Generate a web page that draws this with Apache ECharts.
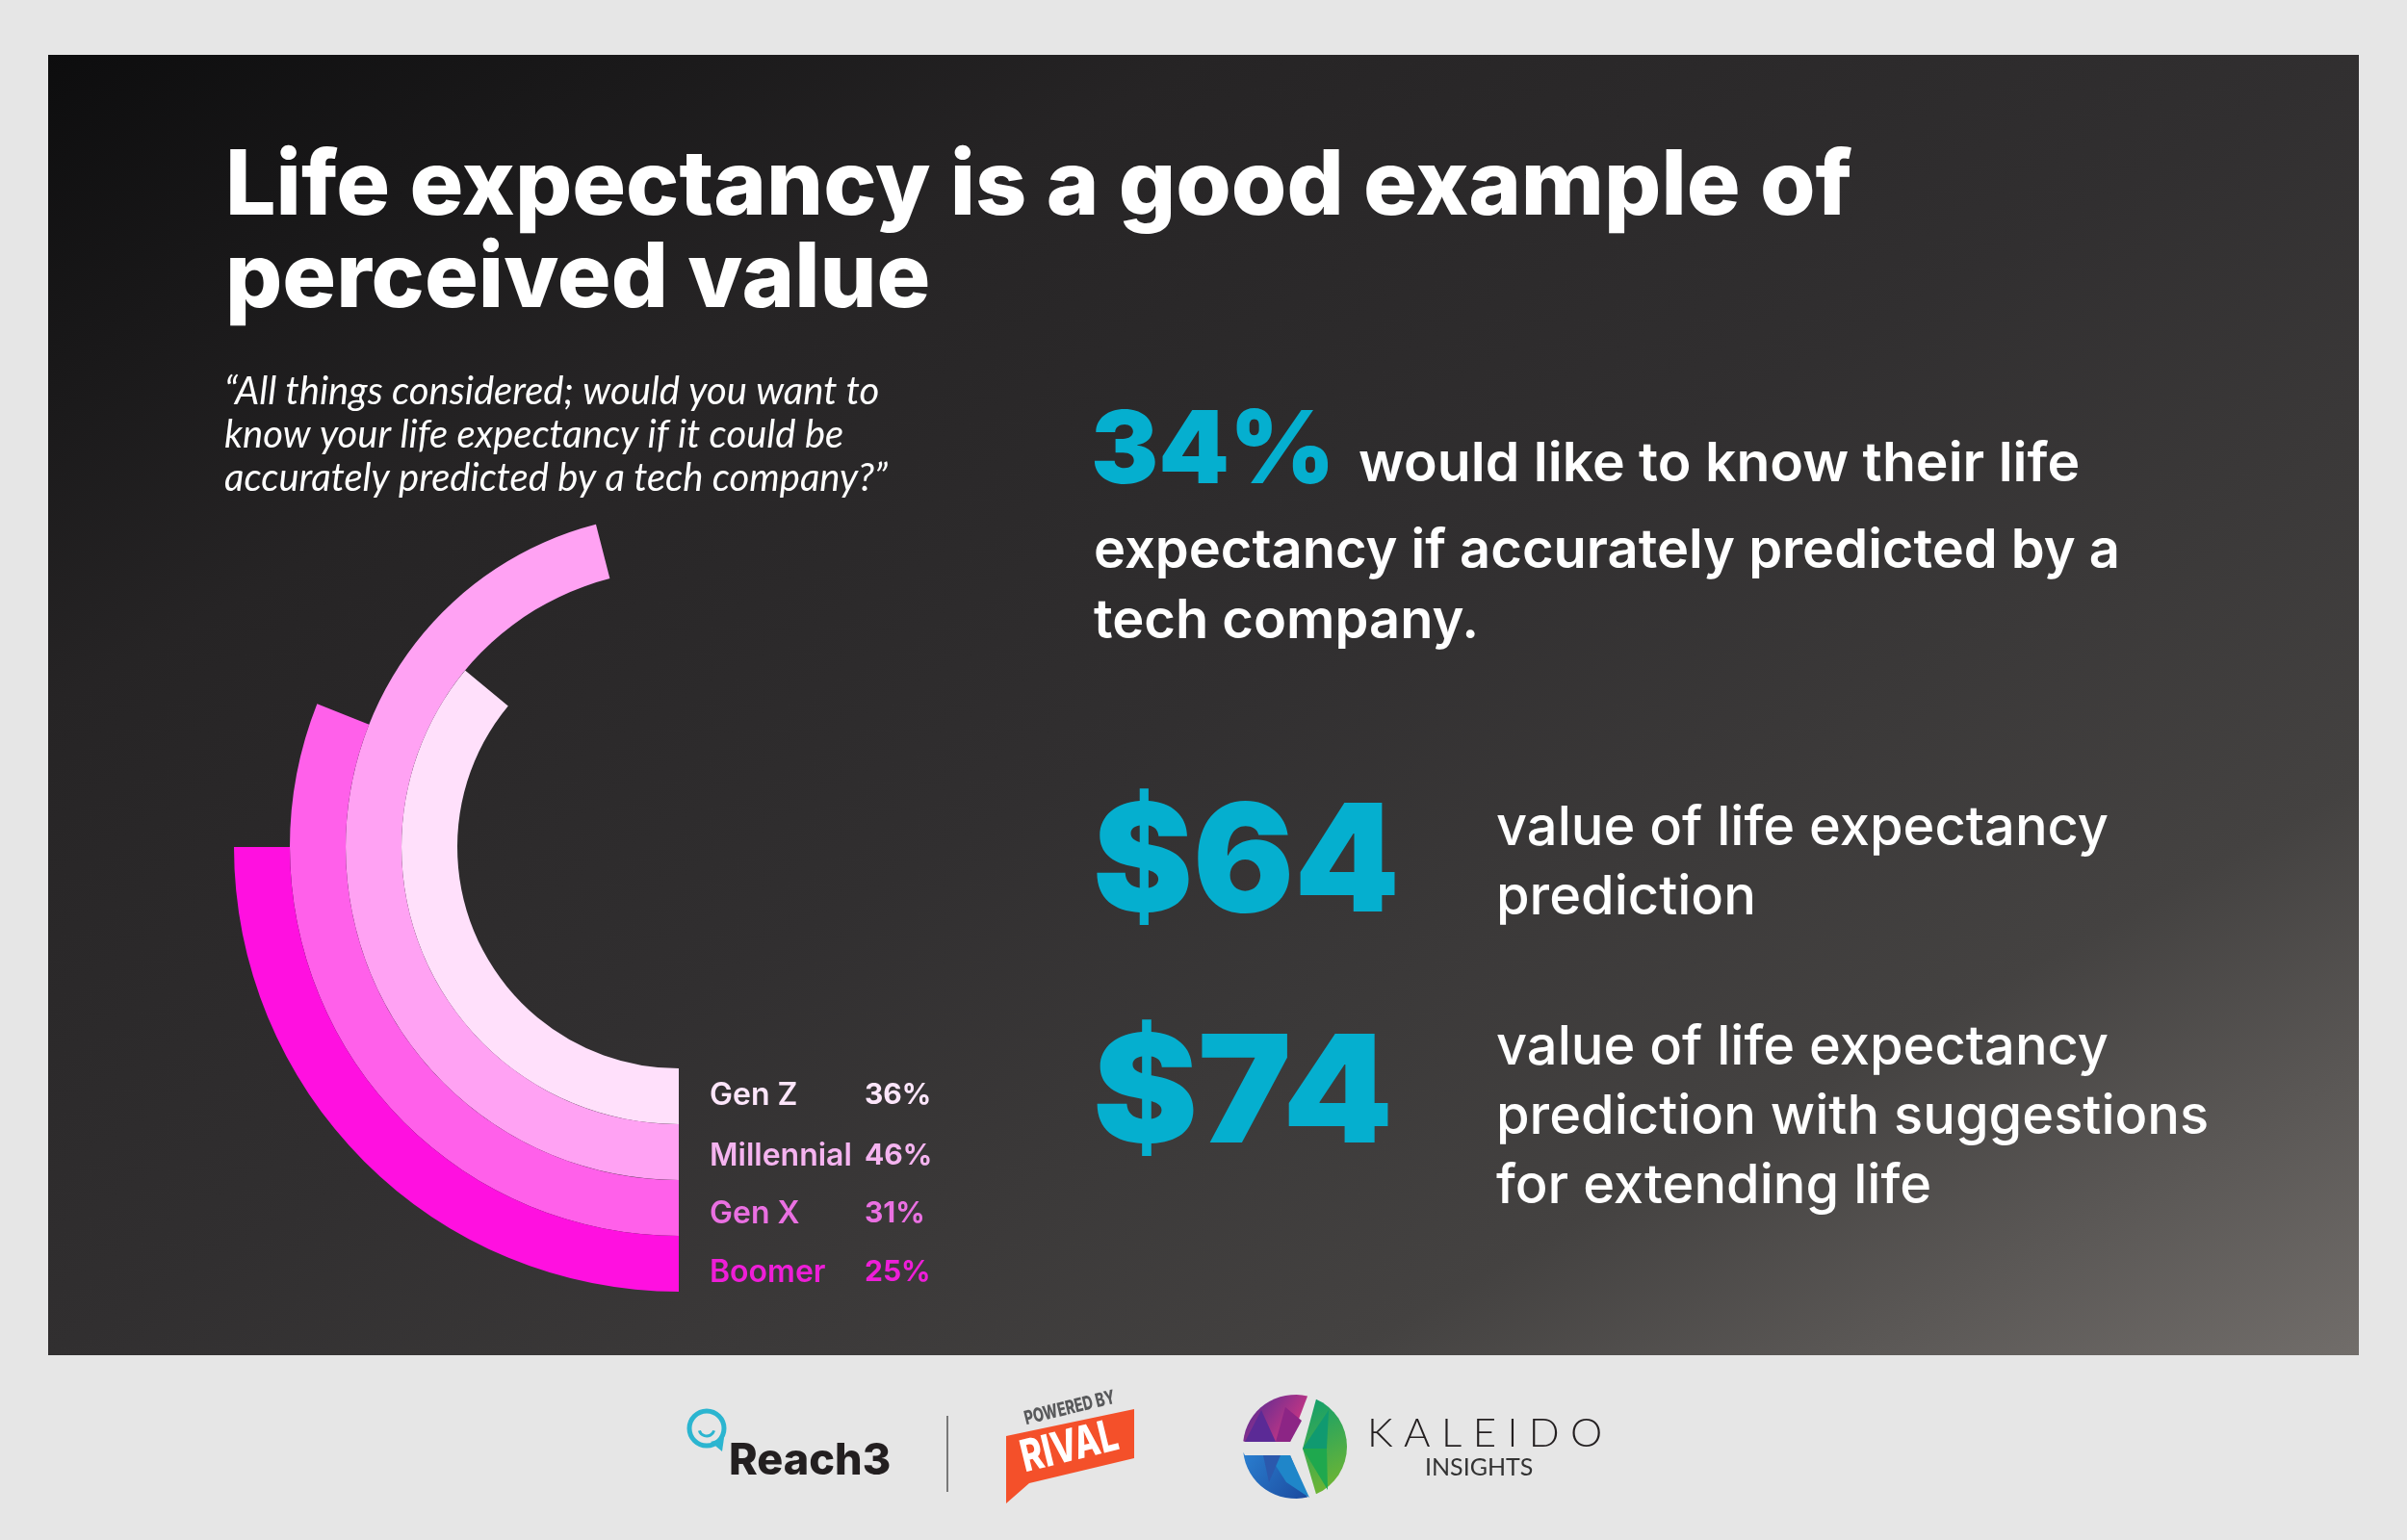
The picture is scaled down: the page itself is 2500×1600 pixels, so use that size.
<!DOCTYPE html>
<html>
<head>
<meta charset="utf-8">
<title>Life expectancy</title>
<script src="https://cdn.jsdelivr.net/npm/echarts@6/dist/echarts.min.js"></script>
<style>
  html, body { margin: 0; padding: 0; background: #e6e6e6; }
  #chart { width: 2500px; height: 1600px; }
</style>
</head>
<body>
<div id="chart"></div>
<script>
// chart values, innermost ring first
const generations = ['Gen Z', 'Millennial', 'Gen X', 'Boomer']
const shares = [36, 46, 31, 25]
const ringColors = ['#ffe0fb', '#ffa2f3', '#ff60ea', '#ff10e0']
const labelColors = ['#fde6fb', '#f5b4f0', '#ea70e2', '#ee1ed8']
const labelNudge = [-1, 4, 6, 9]

const titleLines = ['Life expectancy is a good example of', 'perceived value']
const questionLines = [
  '“All things considered; would you want to',
  'know your life expectancy if it could be',
  'accurately predicted by a tech company?”'
]
const knowShare = '34%'
const knowLines = ['would like to know their life', 'expectancy if accurately predicted by a', 'tech company.']
const plainValue = '$64'
const plainLines = ['value of life expectancy', 'prediction']
const extendedValue = '$74'
const extendedLines = ['value of life expectancy', 'prediction with suggestions', 'for extending life']

const FONT = 'Inter, Lato, sans-serif'
const LATO = 'Lato, sans-serif'
const TEAL = '#05afcf'

const chart = echarts.init(document.getElementById('chart'))

function label(text, x, y, size, weight, fill, extra) {
  return Object.assign({
    type: 'text', x: x, y: y,
    style: Object.assign({
      text: text, fill: fill, fontFamily: FONT, fontSize: size, fontWeight: weight,
      align: 'left', verticalAlign: 'middle'
    }, extra && extra.style)
  }, extra && extra.el)
}

// arc points for the logo pieces
function arcPoints(cx, cy, r, from, to, steps) {
  const pts = []
  for (let i = 0; i <= steps; i++) {
    const a = (from + (to - from) * i / steps) * Math.PI / 180
    pts.push([cx + r * Math.cos(a), cy + r * Math.sin(a)])
  }
  return pts
}

function gradient(a, b) {
  return new echarts.graphic.LinearGradient(0, 0, 1, 1, [{ offset: 0, color: a }, { offset: 1, color: b }])
}

function facet(points, color) {
  return { type: 'polygon', shape: { points: points }, style: { fill: color } }
}

const panelFill = new echarts.graphic.LinearGradient(50, 57, 1204, 2108, [
  { offset: 0, color: '#0d0d0e' },
  { offset: 0.25, color: '#262425' },
  { offset: 0.5, color: '#312f30' },
  { offset: 0.78, color: '#444241' },
  { offset: 1, color: '#716d6a' }
], true)

const logoX = 1345, logoY = 1503, logoR = 54
const logos = [
  // Reach3
  { type: 'circle', shape: { cx: 734, cy: 1484, r: 18 }, style: { fill: 'none', stroke: '#2bb5d0', lineWidth: 5 } },
  { type: 'polygon', shape: { points: [[738, 1498], [752, 1494], [750, 1508]] }, style: { fill: '#2bb5d0' } },
  { type: 'arc', shape: { cx: 734, cy: 1484, r: 8, startAngle: 0.3, endAngle: Math.PI - 0.3 }, style: { stroke: '#2bb5d0', lineWidth: 3, fill: 'none' } },
  label('Reach3', 757, 1518, 45, 800, '#231f20'),
  { type: 'line', shape: { x1: 984, y1: 1471, x2: 984, y2: 1550 }, style: { stroke: '#555', lineWidth: 1.5 } },
  // Rival
  { type: 'polygon', shape: { points: [[1045, 1492], [1178, 1464], [1178, 1515], [1069, 1541], [1045, 1562]] }, style: { fill: '#f4502a' } },
  label('RIVAL', 1111, 1504, 46, 800, '#fff', { style: { align: 'center' }, el: { rotation: 0.24, scaleX: 0.75 } }),
  label('POWERED BY', 1111, 1463, 20, 800, '#58595b', { style: { align: 'center' }, el: { rotation: 0.24, scaleX: 0.72 } }),
  // Kaleido
  { type: 'polygon', shape: { points: [[1293, 1498]].concat(arcPoints(logoX, logoY, logoR, 186, 284, 16), [[1340, 1498]]) }, style: { fill: gradient('#4a2a95', '#e8397f') } },
  facet([[1293, 1498], [1325, 1498], [1310, 1465]], '#5b2a96'),
  facet([[1325, 1498], [1340, 1498], [1352, 1476], [1335, 1462]], '#8c2585'),
  { type: 'polygon', shape: { points: [[1293, 1512]].concat(arcPoints(logoX, logoY, logoR, 174, 76, 16), [[1340, 1512]]) }, style: { fill: gradient('#2a7fd0', '#1c4a9e') } },
  facet([[1340, 1512], [1318, 1512], [1336, 1540], [1360, 1556]], '#1f86c9'),
  facet([[1312, 1512], [1330, 1512], [1318, 1540]], '#2b59ad'),
  { type: 'polygon', shape: { points: [[1353, 1505]].concat(arcPoints(logoX, logoY, logoR, -66, 66, 16)) }, style: { fill: gradient('#0e9e6e', '#7ab82c') } },
  facet([[1353, 1505], [1378, 1505], [1380, 1465]], '#109a70'),
  facet([[1353, 1505], [1378, 1505], [1379, 1548]], '#1fa84e'),
  label('K A L E I D O', 1420, 1489, 42, 300, '#231f20', { style: { fontFamily: LATO } }),
  label('INSIGHTS', 1480, 1525, 25, 400, '#333', { style: { fontFamily: LATO } })
]

const texts = []
titleLines.forEach((t, i) => texts.push(label(t, 234, 195 + i * 96, 93, 800, '#fff')))
questionLines.forEach((t, i) => texts.push(label(t, 233, 407 + i * 45, 40, 400, '#fff', { style: { fontStyle: 'italic', fontFamily: LATO } })))
texts.push(label(knowShare, 1133, 470, 105, 900, TEAL))
texts.push(label(knowLines[0], 1411, 483, 56, 600, '#fff', { el: { scaleX: 1.02 } }))
texts.push(label(knowLines[1], 1136, 573, 56, 600, '#fff'))
texts.push(label(knowLines[2], 1136, 646, 56, 600, '#fff'))
texts.push(label(plainValue, 1135, 900, 156, 900, TEAL))
plainLines.forEach((t, i) => texts.push(label(t, 1554, 861 + i * 72, 56, 500, '#fff')))
texts.push(label(extendedValue, 1135, 1140, 156, 900, TEAL, { el: { scaleX: 1.05 } }))
extendedLines.forEach((t, i) => texts.push(label(t, 1554, 1089 + i * 72, 56, 500, '#fff')))

const rich = {}
generations.forEach((g, i) => {
  const nudge = labelNudge[i]
  const pad = [Math.max(nudge, 0) * 2, 0, Math.max(-nudge, 0) * 2, 0]
  rich['n' + i] = { width: 161, padding: pad, fontFamily: FONT, fontSize: 32, fontWeight: 600, color: labelColors[i] }
  rich['v' + i] = { padding: pad, fontFamily: FONT, fontSize: 30, fontWeight: 700, color: labelColors[i] }
})

chart.setOption({
  backgroundColor: '#e6e6e6',
  animation: false,
  polar: { center: [705, 880], radius: [230, 462] },
  angleAxis: {
    type: 'value', min: 0, max: 100, startAngle: 270, clockwise: true,
    axisLine: { show: false }, axisTick: { show: false }, axisLabel: { show: false }, splitLine: { show: false }
  },
  radiusAxis: {
    type: 'category', data: generations, z: 10,
    axisLine: { show: false }, axisTick: { show: false }, splitLine: { show: false },
    axisLabel: {
      margin: 32, rich: rich, align: 'left', interval: 0, hideOverlap: false,
      formatter: (value, index) => `{n${index}|${value}}{v${index}|${shares[index]}%}`
    }
  },
  series: [{
    type: 'bar', coordinateSystem: 'polar', barCategoryGap: '0%',
    data: shares.map((v, i) => ({ value: v, itemStyle: { color: ringColors[i] } }))
  }],
  graphic: [
    { type: 'rect', z: -5, shape: { x: 50, y: 57, width: 2400, height: 1351 }, style: { fill: panelFill } }
  ].concat(texts, logos)
})
</script>
</body>
</html>
